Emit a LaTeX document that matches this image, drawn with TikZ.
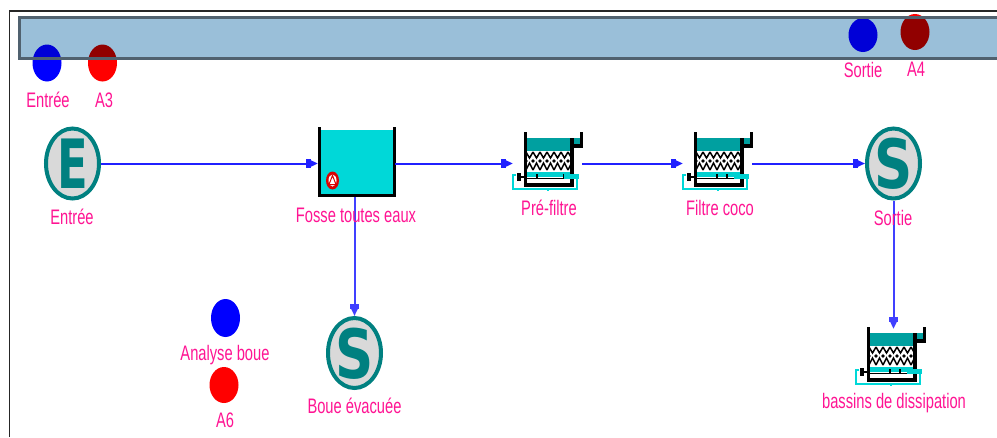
\documentclass[tikz,border=0pt]{standalone}
\usepackage{fontspec}
\setmainfont{Liberation Sans}
\newfontfamily\letterfont{DejaVu Sans}
\usetikzlibrary{shapes.geometric,arrows.meta}
\definecolor{lbl}{RGB}{255,20,147}
\definecolor{flow}{RGB}{32,32,255}
\definecolor{flowv}{RGB}{64,64,255}
\definecolor{tealc}{RGB}{0,128,128}
\definecolor{disc}{RGB}{217,217,217}
\definecolor{bandf}{RGB}{154,191,217}
\definecolor{bande}{RGB}{80,97,111}
\definecolor{tankw}{RGB}{0,216,216}
\definecolor{waterd}{RGB}{0,160,160}
\definecolor{bedc}{RGB}{0,208,208}
\definecolor{dkred}{RGB}{145,0,0}
\definecolor{dkblue}{RGB}{0,0,215}
\newcommand{\sx}[1]{\scalebox{.7}[1]{#1}}
\newcommand{\bigL}[2]{\makebox[0pt]{\raisebox{-.5\height}[0pt][0pt]{\scalebox{#1}[1]{\letterfont\fontsize{68}{68}\selectfont\bfseries #2}}}}
\tikzset{
  lab/.style={font=\fontsize{21}{21}\selectfont,text=lbl,inner sep=0pt},
  term/.style={ellipse,draw=tealc,fill=disc,line width=4pt,minimum width=53pt,minimum height=70pt,inner sep=0pt,text=tealc},
  flowline/.style={draw=flow,line width=2pt,-{Square[length=5pt,width=9pt,sep=-1pt]Triangle[length=8pt,width=7pt]}},
  flowdown/.style={flowline,draw=flowv},
  fnode/.style={rectangle,minimum width=69pt,minimum height=62pt,inner sep=0pt},
  wall/.style={fill=black,draw=none},
  pipe/.style={draw=tankw,line width=2pt}
}
\newcommand{\filtre}[5]{%
  \node[fnode] (#1) at ({#2+23.5},{#3+31}) {};
  \begin{scope}[shift={(#2,#3)}]
    \fill[waterd] (2,6) rectangle (56,19);
    \fill[white] (49,13) rectangle (60,19);
    \fill[white] (3,19) rectangle (46,38);
    \begin{scope}
      \clip (3,19) rectangle (46,39);
      \foreach \i in {0,...,6} {
        \draw[black,line width=1.5pt] ({2+7*\i},20) -- ({5.5+7*\i},26) -- ({9+7*\i},20);
        \draw[black,line width=1.5pt] ({2+7*\i},38) -- ({5.5+7*\i},31) -- ({9+7*\i},38);
        \fill[black] ({2+7*\i},29) circle (1.8);
      }
    \end{scope}
    \fill[bedc] (3,40) rectangle (46,45);
    \fill[wall] (-0.5,0) rectangle (3,54.5);
    \fill[wall] (-0.5,50.5) rectangle (50,54.5);
    \fill[wall] (46,6) rectangle (50,54.5);
    \fill[wall] (50,12) rectangle (59,16);
    \fill[wall] (56,0) rectangle (59,16);
    \draw[black,line width=1.2pt] (3,46.5) -- (42,46.5);
    \draw[black,line width=1.2pt] (#4,42) -- (#4,46.5) (#5,42) -- (#5,46.5);
    \draw[pipe] (-8,43) -- (-11,43) -- (-11,56.5) -- (53,56.5) -- (53,44);
    \draw[pipe] (24,56.5) -- (24,58.5);
    \fill[bedc] (40,41.5) rectangle (55,47);
    \fill[wall] (-7.5,41) rectangle (-3,49);
    \draw[black,line width=1.2pt] (-3,45) -- (0,45);
  \end{scope}
}
\begin{document}
\begin{tikzpicture}[x=1pt,y=-1pt]
\useasboundingbox (0,0) rectangle (997,437);
\fill[white] (0,0) rectangle (997,437);
% outer frame
\draw[black!85,line width=1.6pt] (9.5,437) -- (9.5,11) -- (997,11);
% round indicators, bright colour
\fill[blue] (47,63) ellipse (14.5 and 18.5);
\fill[red] (102.5,63) ellipse (14.5 and 18.5);
\fill[red] (915,32) ellipse (14.5 and 18);
\fill[blue] (863,35) ellipse (14.5 and 17);
% band, seen through over the indicators
\fill[bandf] (19,17) rectangle (997,59);
\begin{scope}
  \clip (19,17) rectangle (997,59);
  \fill[dkblue] (47,63) ellipse (14.5 and 18.5);
  \fill[dkred] (102.5,63) ellipse (14.5 and 18.5);
  \fill[dkred] (915,32) ellipse (14.5 and 18);
  \fill[dkblue] (863,35) ellipse (14.5 and 17);
\end{scope}
\draw[bande,line width=3pt] (999,17.5) -- (19,17.5) -- (19,58.5) -- (999,58.5);
\fill[blue] (225.5,318) ellipse (14.5 and 19);
\fill[red] (224,385) ellipse (14.5 and 18);
% labels of indicators
\node[lab] (lE) at (48,100) {\sx{Entrée}};
\node[lab] (lA3) at (104,100) {\sx{A3}};
\node[lab] (lS) at (863,70) {\sx{Sortie}};
\node[lab] (lA4) at (916,69) {\sx{A4}};
\node[lab] (lAB) at (225,355) {\sx{Analyse boue}};
\node[lab] (lA6) at (225,420) {\sx{A6}};
% main units
\node[term] (E) at (72.5,163.5) {\bigL{.66}{E}};
\node[term] (S) at (893.5,163.5) {\bigL{.78}{S}};
\node[term] (B) at (354.5,353) {\bigL{.78}{S}};
\node[rectangle,inner sep=0pt,minimum width=77pt,minimum height=70pt] (tank) at (356.5,162) {};
\fill[tankw] (320,130) rectangle (393,195);
\fill[wall] (318,127) rectangle (321,197);
\fill[wall] (392.5,127) rectangle (395.5,197);
\fill[wall] (318,193.5) rectangle (395.5,197);
\fill[red!85!black] (332.5,180.5) ellipse (6.5 and 9);
\fill[white] (332.5,180.5) ellipse (4 and 6);
\draw[red!85!black,line width=1pt] (332.5,175.5) -- (329,184.5) -- (336,184.5) -- cycle;
\filtre{f1}{524}{132}{13}{40}
\filtre{f2}{694}{132}{23}{33}
\filtre{f3}{867}{327}{23}{33}
% connectors
\draw[flowline] (E.east) -- (E.east -| tank.west);
\draw[flowline] (E.east -| tank.east) -- (E.east -| f1.west);
\draw[flowline] (E.east -| f1.east) -- (E.east -| f2.west);
\draw[flowline] (E.east -| f2.east) -- (S.west);
\draw[flowdown] (B.north |- tank.south) -- (B.north);
\draw[flowdown,shorten >=-2pt] (S.south) -- (S.south |- f3.north);
% unit labels
\node[lab] (l1) at (72,217) {\sx{Entrée}};
\node[lab] (l2) at (356,215) {\sx{Fosse toutes eaux}};
\node[lab] (l3) at (549,208) {\sx{Pré-filtre}};
\node[lab] (l4) at (720,208) {\sx{Filtre coco}};
\node[lab] (l5) at (893,218) {\sx{Sortie}};
\node[lab] (l6) at (354.5,406) {\sx{Boue évacuée}};
\node[lab] (l7) at (894,403) {\sx{bassins de dissipation}};
\end{tikzpicture}
\end{document}
